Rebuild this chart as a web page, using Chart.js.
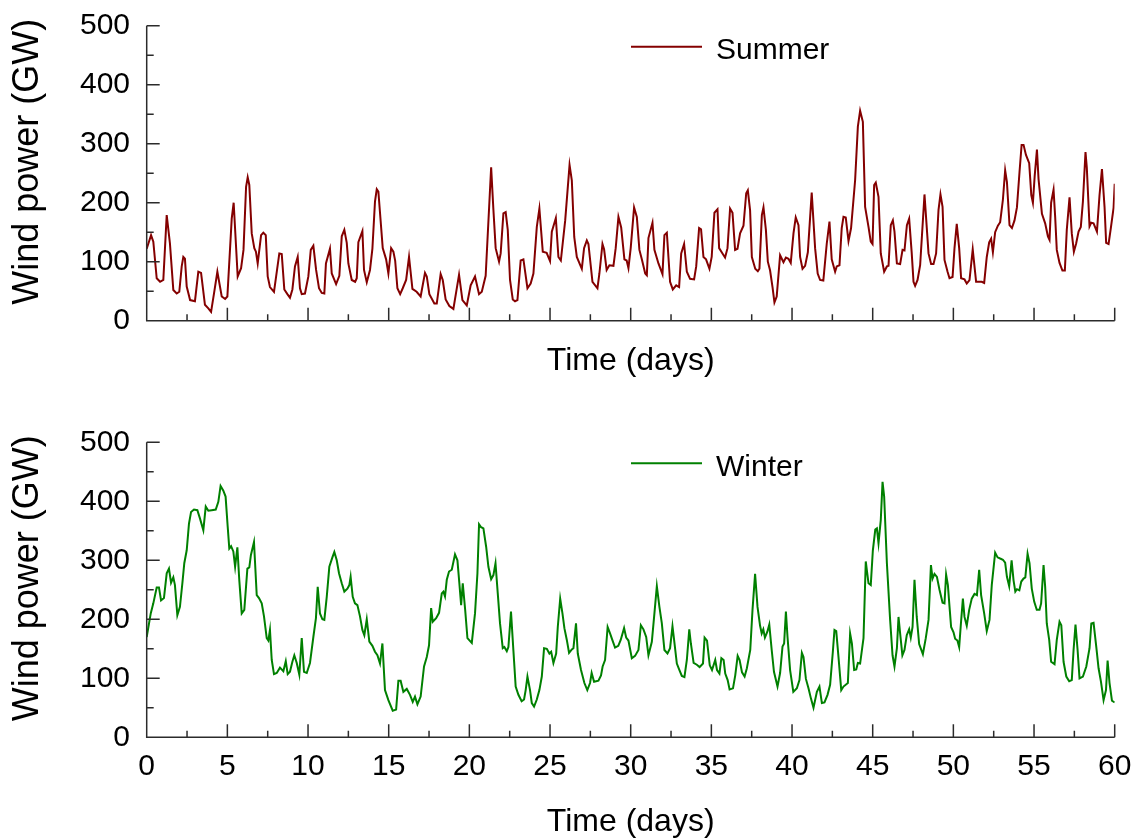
<!DOCTYPE html>
<html>
<head>
<meta charset="utf-8">
<title>Wind power – summer and winter</title>
<script src="https://cdn.jsdelivr.net/npm/chart.js@4.4.1/dist/chart.umd.min.js"></script>
<style>
    html, body { margin: 0; padding: 0; background: #fff; overflow: hidden; }
    .panel { position: absolute; left: 0; }
</style>
</head>
<body>
<canvas id="summerChart" class="panel" width="1136" height="400" style="top:0"></canvas>
<canvas id="winterChart" class="panel" width="1136" height="450" style="top:400px"></canvas>
<script>
const FONT = '"Liberation Sans", Arial, Helvetica, sans-serif';
Chart.defaults.font.family = FONT;
Chart.defaults.color = '#000';

// Axis ranges and tick spacing
const dayMax = 60;
const dayMajor = 5;
const dayMinor = 2.5;
const gwMax = 500;
const gwMajor = 100;
const gwMinor = 50;

// Summer output, time in days / power in GW
const summerDays = [
    0, 0.27, 0.41, 0.62, 0.83, 1.03, 1.24, 1.44, 1.65, 1.86, 2.02, 2.17, 2.27, 2.37, 2.48, 2.69, 2.99, 3.2, 3.37, 3.61,
    3.82, 3.99, 4.17, 4.38, 4.65, 4.86, 5.0, 5.27, 5.39, 5.64, 5.85, 6.0, 6.16, 6.26, 6.36, 6.51, 6.67, 6.77, 6.88, 7.09,
    7.23, 7.38, 7.5, 7.64, 7.89, 8.22, 8.37, 8.53, 8.72, 8.88, 9.03, 9.19, 9.36, 9.5, 9.61, 9.81, 10.02, 10.17, 10.33, 10.5,
    10.68, 10.85, 11.01, 11.11, 11.36, 11.47, 11.74, 11.94, 12.09, 12.25, 12.4, 12.5, 12.71, 12.92, 13.02, 13.12, 13.37, 13.47, 13.64, 13.84,
    13.99, 14.15, 14.26, 14.36, 14.63, 14.84, 14.98, 15.15, 15.29, 15.4, 15.54, 15.71, 15.87, 16.08, 16.26, 16.47, 16.73, 16.98, 17.25, 17.36,
    17.52, 17.83, 17.98, 18.22, 18.35, 18.53, 18.76, 19.01, 19.36, 19.57, 19.84, 20.08, 20.35, 20.6, 20.77, 21.01, 21.35, 21.49, 21.63, 21.84,
    21.94, 22.11, 22.25, 22.38, 22.52, 22.69, 22.83, 22.98, 23.18, 23.35, 23.6, 23.8, 23.97, 24.18, 24.34, 24.55, 24.79, 25.0, 25.11, 25.36,
    25.52, 25.67, 25.94, 26.21, 26.35, 26.5, 26.66, 26.97, 27.11, 27.28, 27.38, 27.63, 27.94, 28.06, 28.25, 28.35, 28.51, 28.68, 28.93, 29.07,
    29.24, 29.41, 29.61, 29.75, 29.86, 30.0, 30.21, 30.38, 30.54, 30.69, 30.9, 31.0, 31.1, 31.35, 31.47, 31.72, 31.97, 32.09, 32.24, 32.44,
    32.61, 32.82, 33.0, 33.13, 33.31, 33.48, 33.68, 33.93, 34.06, 34.24, 34.36, 34.51, 34.67, 34.88, 35.02, 35.19, 35.38, 35.48, 35.69, 35.85,
    36.0, 36.16, 36.31, 36.47, 36.62, 36.78, 36.99, 37.16, 37.26, 37.4, 37.51, 37.72, 37.88, 37.98, 38.13, 38.23, 38.38, 38.5, 38.64, 38.79,
    38.91, 39.05, 39.26, 39.47, 39.62, 39.78, 39.92, 40.09, 40.23, 40.4, 40.5, 40.65, 40.81, 40.98, 41.22, 41.43, 41.59, 41.74, 41.94, 42.15,
    42.32, 42.46, 42.67, 42.77, 42.94, 43.08, 43.19, 43.33, 43.5, 43.66, 43.91, 44.08, 44.22, 44.39, 44.53, 44.74, 44.88, 44.99, 45.09, 45.19,
    45.36, 45.5, 45.71, 45.88, 45.98, 46.12, 46.25, 46.35, 46.5, 46.7, 46.85, 46.97, 47.12, 47.26, 47.42, 47.53, 47.63, 47.78, 47.94, 48.21,
    48.46, 48.62, 48.77, 48.93, 49.08, 49.2, 49.33, 49.45, 49.64, 49.76, 49.95, 50.07, 50.21, 50.36, 50.48, 50.69, 50.83, 51.0, 51.2, 51.41,
    51.62, 51.76, 51.91, 52.07, 52.22, 52.34, 52.45, 52.59, 52.76, 52.9, 53.07, 53.21, 53.32, 53.48, 53.63, 53.79, 53.94, 54.1, 54.23, 54.35,
    54.5, 54.7, 54.83, 54.93, 55.04, 55.18, 55.28, 55.49, 55.69, 55.86, 55.96, 56.06, 56.21, 56.31, 56.41, 56.58, 56.76, 56.91, 57.03, 57.2,
    57.34, 57.47, 57.61, 57.76, 57.9, 58.03, 58.19, 58.27, 58.44, 58.54, 58.69, 58.9, 59.06, 59.21, 59.37, 59.47, 59.62, 59.76, 59.93, 60
];
const summerGW = [
    122, 145, 134, 72, 66, 69, 179, 131, 52, 46, 49, 92, 108, 105, 58, 35, 33, 83, 81, 27,
    21, 15, 46, 83, 41, 37, 41, 173, 200, 75, 89, 120, 227, 243, 230, 148, 123, 117, 97, 145,
    149, 145, 75, 57, 49, 114, 113, 53, 45, 39, 53, 92, 108, 55, 45, 46, 75, 120, 127, 86,
    55, 47, 46, 97, 122, 80, 62, 76, 143, 154, 132, 97, 69, 66, 72, 133, 152, 86, 65, 86,
    122, 202, 223, 219, 123, 104, 80, 123, 117, 102, 55, 45, 55, 69, 108, 54, 49, 41, 81, 75,
    45, 29, 29, 79, 69, 36, 25, 20, 78, 35, 26, 60, 75, 45, 49, 76, 260, 188, 123, 100,
    114, 182, 184, 154, 69, 36, 33, 35, 102, 104, 55, 63, 80, 159, 190, 117, 115, 101, 151, 174,
    108, 102, 170, 264, 238, 142, 108, 88, 123, 136, 130, 66, 55, 80, 130, 121, 86, 94, 93, 123,
    176, 158, 104, 102, 89, 123, 192, 176, 120, 104, 80, 77, 140, 166, 120, 97, 79, 145, 149, 66,
    53, 60, 57, 114, 130, 83, 71, 70, 92, 157, 155, 108, 104, 88, 108, 183, 189, 123, 114, 107,
    123, 190, 183, 120, 122, 148, 161, 216, 221, 187, 108, 88, 84, 88, 179, 192, 154, 100, 85, 57,
    31, 41, 111, 99, 107, 105, 98, 148, 175, 162, 108, 88, 93, 116, 217, 123, 80, 69, 68, 130,
    168, 104, 83, 92, 94, 157, 176, 175, 135, 157, 238, 329, 356, 337, 193, 159, 134, 130, 230, 234,
    210, 114, 83, 92, 93, 162, 170, 151, 97, 96, 120, 119, 162, 173, 114, 66, 59, 69, 94, 214,
    114, 96, 96, 114, 188, 214, 193, 103, 83, 72, 74, 123, 164, 123, 72, 70, 63, 69, 121, 66,
    66, 66, 64, 108, 133, 139, 116, 150, 161, 167, 205, 255, 235, 162, 157, 170, 192, 252, 298, 298,
    281, 267, 213, 200, 245, 290, 240, 181, 165, 143, 137, 200, 222, 176, 120, 98, 85, 85, 154, 209,
    148, 117, 131, 151, 159, 202, 286, 260, 160, 166, 165, 151, 213, 257, 193, 132, 130, 157, 191, 232
];

// Winter output, time in days / power in GW
const winterDays = [
    0, 0.25, 0.41, 0.62, 0.76, 0.89, 1.07, 1.24, 1.38, 1.51, 1.65, 1.75, 1.9, 2.06, 2.21, 2.33, 2.48, 2.62, 2.75, 2.93,
    3.14, 3.3, 3.51, 3.66, 3.82, 4.03, 4.28, 4.44, 4.58, 4.75, 4.89, 5.02, 5.12, 5.23, 5.37, 5.48, 5.62, 5.74, 5.89, 6.05,
    6.24, 6.36, 6.46, 6.65, 6.82, 6.96, 7.13, 7.27, 7.44, 7.54, 7.64, 7.75, 7.89, 8.06, 8.26, 8.47, 8.62, 8.74, 8.88, 9.03,
    9.15, 9.3, 9.46, 9.61, 9.75, 9.92, 10.12, 10.33, 10.49, 10.6, 10.74, 10.89, 11.01, 11.16, 11.32, 11.51, 11.63, 11.78, 11.92, 12.09,
    12.25, 12.44, 12.56, 12.64, 12.77, 12.91, 13.06, 13.22, 13.37, 13.49, 13.64, 13.8, 13.99, 14.15, 14.3, 14.46, 14.61, 14.77, 14.98, 15.25,
    15.46, 15.6, 15.74, 15.91, 16.12, 16.32, 16.49, 16.63, 16.78, 16.98, 17.19, 17.36, 17.5, 17.63, 17.73, 17.94, 18.12, 18.29, 18.39, 18.49,
    18.6, 18.74, 18.91, 19.11, 19.26, 19.38, 19.49, 19.59, 19.74, 19.88, 20.15, 20.35, 20.5, 20.6, 20.73, 20.87, 21.04, 21.18, 21.35, 21.49,
    21.62, 21.76, 21.9, 22.07, 22.17, 22.32, 22.42, 22.58, 22.73, 22.87, 23.04, 23.24, 23.39, 23.49, 23.6, 23.76, 23.87, 24.01, 24.18, 24.34,
    24.49, 24.63, 24.8, 24.96, 25.07, 25.21, 25.38, 25.48, 25.63, 25.77, 25.89, 26.04, 26.18, 26.35, 26.45, 26.61, 26.72, 26.92, 27.13, 27.31,
    27.48, 27.58, 27.73, 28.0, 28.16, 28.26, 28.41, 28.57, 28.72, 28.86, 29.03, 29.23, 29.38, 29.59, 29.72, 29.86, 30.07, 30.27, 30.48, 30.63,
    30.79, 30.96, 31.1, 31.31, 31.47, 31.62, 31.78, 31.93, 32.09, 32.28, 32.44, 32.59, 32.69, 32.86, 33.02, 33.17, 33.33, 33.48, 33.63, 33.73,
    33.9, 34.1, 34.27, 34.48, 34.58, 34.73, 34.9, 35.04, 35.24, 35.35, 35.5, 35.62, 35.76, 35.86, 36.01, 36.13, 36.34, 36.48, 36.63, 36.75,
    36.9, 37.06, 37.2, 37.41, 37.55, 37.71, 37.86, 38.02, 38.12, 38.22, 38.32, 38.47, 38.59, 38.74, 38.88, 39.1, 39.26, 39.41, 39.51, 39.62,
    39.72, 39.88, 40.08, 40.3, 40.46, 40.61, 40.71, 40.86, 41.02, 41.17, 41.33, 41.54, 41.7, 41.85, 42.01, 42.2, 42.36, 42.53, 42.63, 42.74,
    42.88, 43.05, 43.19, 43.46, 43.6, 43.71, 43.85, 43.98, 44.08, 44.22, 44.43, 44.57, 44.74, 44.88, 45.01, 45.16, 45.26, 45.36, 45.5, 45.61,
    45.71, 45.88, 46.08, 46.23, 46.35, 46.5, 46.6, 46.7, 46.84, 46.97, 47.11, 47.26, 47.36, 47.47, 47.59, 47.73, 47.88, 48.11, 48.29, 48.46,
    48.61, 48.71, 48.83, 48.98, 49.14, 49.33, 49.45, 49.55, 49.66, 49.76, 49.86, 50.01, 50.11, 50.25, 50.36, 50.46, 50.59, 50.69, 50.83, 50.98,
    51.14, 51.31, 51.46, 51.6, 51.72, 51.91, 52.07, 52.24, 52.38, 52.59, 52.74, 52.9, 53.07, 53.21, 53.32, 53.46, 53.61, 53.73, 53.84, 53.94,
    54.09, 54.21, 54.35, 54.46, 54.6, 54.72, 54.86, 55.01, 55.17, 55.34, 55.44, 55.59, 55.69, 55.79, 55.94, 56.06, 56.27, 56.41, 56.58, 56.69,
    56.83, 57.0, 57.18, 57.34, 57.45, 57.57, 57.7, 57.82, 58.03, 58.24, 58.44, 58.55, 58.69, 58.86, 59.0, 59.15, 59.31, 59.46, 59.56, 59.68,
    59.83, 60
];
const winterGW = [
    170, 210, 227, 254, 254, 232, 236, 278, 286, 262, 271, 258, 207, 221, 261, 295, 317, 362, 382, 386,
    385, 371, 351, 391, 384, 385, 386, 399, 426, 418, 408, 357, 320, 324, 315, 289, 322, 266, 210, 216,
    286, 288, 309, 331, 241, 236, 227, 205, 168, 164, 182, 131, 107, 109, 118, 112, 129, 107, 111, 128,
    139, 126, 106, 168, 111, 109, 126, 170, 202, 255, 210, 200, 199, 238, 289, 305, 314, 300, 278, 261,
    247, 252, 258, 272, 238, 227, 224, 205, 182, 173, 200, 162, 155, 145, 139, 125, 159, 80, 63, 45,
    47, 96, 96, 77, 82, 72, 60, 69, 56, 69, 120, 136, 156, 219, 196, 202, 211, 244, 247, 239,
    267, 281, 284, 310, 300, 261, 224, 261, 216, 168, 160, 210, 278, 361, 356, 354, 323, 289, 268, 275,
    295, 244, 193, 151, 153, 146, 153, 213, 147, 86, 72, 61, 64, 80, 103, 80, 58, 52, 64, 80,
    103, 151, 150, 142, 145, 126, 142, 187, 235, 210, 185, 165, 143, 149, 151, 193, 142, 114, 92, 80,
    92, 109, 94, 96, 105, 120, 131, 187, 176, 165, 152, 155, 165, 185, 169, 164, 134, 138, 148, 190,
    183, 170, 139, 162, 210, 256, 221, 193, 148, 142, 151, 188, 165, 125, 114, 104, 102, 131, 183, 159,
    126, 123, 119, 125, 169, 164, 122, 114, 131, 114, 108, 134, 131, 108, 97, 81, 83, 105, 138, 131,
    110, 103, 117, 148, 216, 277, 221, 189, 176, 183, 169, 179, 191, 148, 111, 86, 109, 154, 159, 213,
    170, 114, 77, 83, 97, 143, 136, 99, 83, 66, 50, 77, 86, 58, 59, 72, 89, 145, 182, 180,
    136, 80, 86, 92, 176, 159, 114, 115, 126, 125, 168, 298, 261, 258, 317, 352, 354, 329, 368, 433,
    408, 295, 199, 139, 120, 151, 204, 176, 139, 148, 173, 183, 169, 187, 267, 204, 158, 141, 168, 199,
    292, 269, 277, 272, 250, 228, 227, 276, 258, 222, 187, 178, 167, 164, 153, 190, 235, 204, 189, 216,
    235, 243, 241, 284, 241, 210, 180, 199, 258, 313, 305, 303, 301, 296, 272, 256, 300, 266, 247, 251,
    249, 264, 269, 271, 311, 295, 252, 230, 216, 216, 227, 292, 255, 193, 165, 128, 124, 165, 196, 190,
    128, 103, 95, 97, 148, 191, 148, 100, 103, 120, 151, 193, 194, 153, 117, 94, 63, 80, 130, 92,
    62, 59
];

const toPoints = (days, values) => days.map((d, i) => ({x: d, y: values[i]}));

/**
 * Axis lines with inward ticks, the rotated y title and a one-line legend.
 */
const axesFrame = {
    id: 'axesFrame',
    afterDatasetsDraw(chart) {
        const {ctx, chartArea: {left, right, top, bottom}, scales: {x, y}} = chart;

        ctx.save();
        ctx.strokeStyle = '#2b2b2b';
        ctx.lineWidth = 1.5;
        ctx.beginPath();
        ctx.moveTo(left, top);
        ctx.lineTo(left, bottom);
        ctx.lineTo(right, bottom);
        for (let d = 0; d <= dayMax; d += dayMinor) {
            const px = x.getPixelForValue(d);
            ctx.moveTo(px, bottom);
            ctx.lineTo(px, bottom - (d % dayMajor === 0 ? 13 : 6.5));
        }
        for (let v = 0; v <= gwMax; v += gwMinor) {
            const py = y.getPixelForValue(v);
            ctx.moveTo(left, py);
            ctx.lineTo(left + (v % gwMajor === 0 ? 13 : 7), py);
        }
        ctx.stroke();

        // y title sits a little above the middle of the axis
        ctx.fillStyle = '#000';
        ctx.font = '36px ' + FONT;
        ctx.textAlign = 'center';
        ctx.textBaseline = 'alphabetic';
        ctx.translate(38, (top + bottom) / 2 - 11.5);
        ctx.rotate(-Math.PI / 2);
        ctx.fillText('Wind power (GW)', 0, 0);
        ctx.restore();

        // legend
        const ds = chart.data.datasets[0];
        const ly = top + 21;
        ctx.save();
        ctx.strokeStyle = ds.borderColor;
        ctx.lineWidth = 2;
        ctx.beginPath();
        ctx.moveTo(631, ly);
        ctx.lineTo(702, ly);
        ctx.stroke();
        ctx.fillStyle = '#000';
        ctx.font = '30px ' + FONT;
        ctx.textAlign = 'left';
        ctx.textBaseline = 'alphabetic';
        ctx.fillText(ds.label, 716, ly + 12.6);
        ctx.restore();
    }
};

/**
 * One panel: a single series against time.
 * Label offsets go through tickLength (marks themselves hidden) so that
 * ticks.padding stays 0 and doesn't grow the layout padding.
 */
const windChart = function({elementId, label, color, days, values, areaTop, xAxisHeight, showDayLabels, titleGap}) {
    const ctx = document.getElementById(elementId);

    new Chart(ctx, {
        type: 'line',
        data: {
            datasets: [
                {
                    label: label,
                    data: toPoints(days, values),
                    borderColor: color,
                    borderWidth: 2,
                    pointRadius: 0,
                    tension: 0,
                    fill: false
                }
            ]
        },
        options: {
            responsive: false,
            animation: false,
            events: [],
            layout: {
                padding: {left: 0, top: areaTop, right: 21.3, bottom: 0}
            },
            scales: {
                x: {
                    type: 'linear',
                    min: 0,
                    max: dayMax,
                    grid: {display: false, drawTicks: true, tickLength: 11.7},
                    border: {display: false},
                    ticks: {
                        display: showDayLabels,
                        stepSize: dayMajor,
                        autoSkip: false,
                        maxRotation: 0,
                        padding: 0,
                        font: {size: 30}
                    },
                    title: {
                        display: true,
                        text: 'Time (days)',
                        font: {size: 32},
                        padding: {top: 0, bottom: titleGap}
                    },
                    afterFit: (scale) => { scale.height = xAxisHeight; }
                },
                y: {
                    min: 0,
                    max: gwMax,
                    grid: {display: false, drawTicks: true, tickLength: 16.7},
                    border: {display: false},
                    ticks: {
                        stepSize: gwMajor,
                        padding: 0,
                        font: {size: 30}
                    },
                    afterFit: (scale) => { scale.width = 146.7; }
                }
            },
            plugins: {
                legend: false,
                tooltip: {enabled: false}
            }
        },
        plugins: [axesFrame]
    });
}

windChart({
    elementId: 'summerChart',
    label: 'Summer',
    color: '#840000',
    days: summerDays,
    values: summerGW,
    areaTop: 25.7,
    xAxisHeight: 79.3,
    showDayLabels: false,
    titleGap: 19.6
});

windChart({
    elementId: 'winterChart',
    label: 'Winter',
    color: '#008000',
    days: winterDays,
    values: winterGW,
    areaTop: 42.3,
    xAxisHeight: 112.7,
    showDayLabels: true,
    titleGap: 8.9
});
</script>
</body>
</html>
